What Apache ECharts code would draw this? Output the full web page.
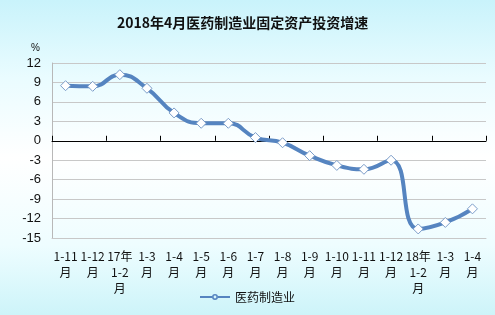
<!DOCTYPE html>
<html><head><meta charset="utf-8">
<script src="https://cdn.jsdelivr.net/npm/echarts@6/dist/echarts.min.js"></script>
<style>
html,body{margin:0;padding:0;}
#c{width:495px;height:315px;background:linear-gradient(180deg,#c9f3fb 0%,#eafcff 25%,#ffffff 50%,#eefdff 78%,#cdf4f9 100%);}
</style></head>
<body><div id="c"></div>
<script>
const categories = ['1-11\n月','1-12\n月','17年\n1-2\n月','1-3\n月','1-4\n月','1-5\n月','1-6\n月','1-7\n月','1-8\n月','1-9\n月','1-10\n月','1-11\n月','1-12\n月','18年\n1-2\n月','1-3\n月','1-4\n月'];
const values = [8.5, 8.4, 10.2, 8.1, 4.3, 2.7, 2.7, 0.5, -0.3, -2.3, -3.8, -4.4, -3.0, -13.6, -12.6, -10.5];
const yTicks = {min: -15, max: 12, interval: 3};
const seriesName = '医药制造业';
const title = '2018年4月医药制造业固定资产投资增速';

const legendIcon = 'path://M0,4L12,4L12,6L0,6Z M12,5A3,3 0 1,1 18,5A3,3 0 1,1 12,5Z M13.6,5A1.4,1.4 0 1,0 16.4,5A1.4,1.4 0 1,0 13.6,5Z M18,4L30,4L30,6L18,6Z';

const chart = echarts.init(document.getElementById('c'));
chart.setOption({
  animation: false,
  title: {text: title, left: 112, top: 11, textStyle: {fontFamily: 'Noto Sans CJK SC', fontSize: 14, fontWeight: 'bold', color: '#111'}},
  grid: {left: 52, right: 9, top: 63, bottom: 77},
  legend: {bottom: 7, left: 'center', data: [{name: seriesName, icon: legendIcon}], itemWidth: 30, itemHeight: 6, itemGap: 2,
    itemStyle: {color: '#5584c0', borderWidth: 0},
    textStyle: {fontFamily: 'Noto Sans CJK SC', fontSize: 12, color: '#111'}},
  xAxis: [
    {type: 'category', data: categories, position: 'bottom',
     axisLine: {onZero: false, lineStyle: {color: '#c8c8c8'}}, axisTick: {show: false},
     axisLabel: {interval: 0, fontFamily: 'Noto Sans CJK SC', fontSize: 12, color: '#111', lineHeight: 16, margin: 10}},
    {type: 'category', data: categories, position: 'bottom',
     axisLine: {onZero: true, lineStyle: {color: '#000', width: 1}},
     axisTick: {show: true, inside: true, length: 5, lineStyle: {color: '#000'}},
     axisLabel: {show: false}}
  ],
  yAxis: {type: 'value', min: yTicks.min, max: yTicks.max, interval: yTicks.interval,
    name: '%', nameLocation: 'end', nameGap: 10, nameTextStyle: {fontFamily: 'Liberation Sans', fontSize: 10, color: '#111', align: 'right', padding: [0, 12, 0, 0]},
    axisLine: {show: true, lineStyle: {color: '#b8b8b8'}}, axisTick: {show: false},
    axisLabel: {fontFamily: 'Liberation Sans', fontSize: 13, color: '#111', margin: 11},
    splitLine: {lineStyle: {color: '#c8c8c8'}}},
  series: [{
    name: seriesName, type: 'line', data: values, smooth: 0.5, xAxisIndex: 0,
    symbol: 'diamond', symbolSize: 10,
    lineStyle: {color: '#5584c0', width: 4},
    itemStyle: {color: '#ffffff', borderColor: '#7a9cc8', borderWidth: 1}
  }]
});
</script></body></html>
